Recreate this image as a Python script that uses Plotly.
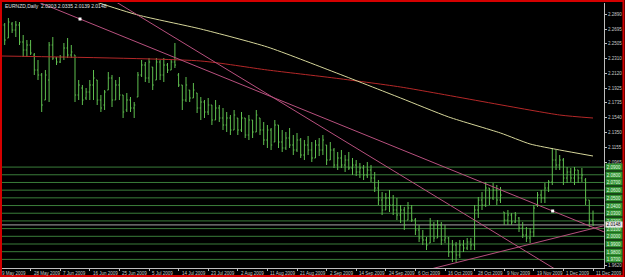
import plotly.graph_objects as go

# ---------------- data ----------------
bar_open = [2.2578, 2.2747, 2.2578, 2.2760, 2.2682, 2.2747, 2.2526, 2.2422, 2.2487, 2.2357,
            2.2162, 2.2097, 2.1772, 2.2032, 2.2487, 2.2318, 2.2266, 2.2331, 2.2448, 2.2357,
            2.2357, 2.1837, 2.1928, 2.1798, 2.1876, 2.1967, 2.2032, 2.1772, 2.1707, 2.1902,
            2.2058, 2.1772, 2.1967, 2.1837, 2.1642, 2.1772, 2.1668, 2.1811, 2.2097, 2.2227,
            2.2058, 2.2201, 2.2032, 2.2266, 2.2097, 2.2227, 2.2162, 2.2266, 2.2097, 2.1967,
            2.1772, 2.1902, 2.1798, 2.1863, 2.1668, 2.1746, 2.1616, 2.1707, 2.1512, 2.1668,
            2.1538, 2.1447, 2.1538, 2.1382, 2.1538, 2.1382, 2.1538, 2.1317, 2.1512, 2.1356,
            2.1538, 2.1382, 2.1252, 2.1382, 2.1226, 2.1447, 2.1226, 2.1148, 2.1278, 2.1187,
            2.1122, 2.1252, 2.1057, 2.1187, 2.1122, 2.1018, 2.1187, 2.1122, 2.1187, 2.0992,
            2.1122, 2.0927, 2.1018, 2.0927, 2.0992, 2.0888, 2.0927, 2.0836, 2.0888, 2.0797,
            2.0862, 2.0758, 2.0628, 2.0472, 2.0342, 2.0498, 2.0407, 2.0342, 2.0277, 2.0342,
            2.0212, 2.0368, 2.0212, 2.0082, 1.9978, 1.9952, 1.9913, 2.0147, 1.9978, 2.0147,
            1.9952, 1.9978, 1.9796, 1.9887, 1.9757, 1.9887, 1.9848, 1.9926, 1.9887, 2.0342,
            2.0472, 2.0407, 2.0628, 2.0498, 2.0602, 2.0472, 2.0316, 2.0212, 2.0277, 2.0186,
            2.0238, 2.0108, 2.0017, 1.9978, 2.0056, 2.0407, 2.0537, 2.0498, 2.0628, 2.0706,
            2.0992, 2.0927, 2.0992, 2.0758, 2.0836, 2.0758, 2.0862, 2.0758, 2.0732, 2.0472,
            2.0203]
bar_high = [2.2812, 2.2773, 2.2838, 2.2786, 2.2799, 2.2786, 2.2617, 2.2552, 2.2552, 2.2383,
            2.2292, 2.2123, 2.2162, 2.2526, 2.2591, 2.2331, 2.2357, 2.2513, 2.2578, 2.2487,
            2.2357, 2.2032, 2.1967, 2.1928, 2.2032, 2.2162, 2.2032, 2.1837, 2.1902, 2.2136,
            2.2097, 2.2032, 2.2071, 2.1837, 2.1863, 2.1811, 2.1746, 2.2136, 2.2292, 2.2266,
            2.2318, 2.2201, 2.2318, 2.2292, 2.2318, 2.2253, 2.2292, 2.2513, 2.2123, 2.1967,
            2.2071, 2.1902, 2.1993, 2.1863, 2.1811, 2.1772, 2.1798, 2.1707, 2.1772, 2.1707,
            2.1668, 2.1616, 2.1577, 2.1642, 2.1538, 2.1616, 2.1538, 2.1577, 2.1512, 2.1642,
            2.1538, 2.1486, 2.1447, 2.1408, 2.1512, 2.1447, 2.1382, 2.1356, 2.1408, 2.1317,
            2.1343, 2.1278, 2.1252, 2.1304, 2.1226, 2.1252, 2.1278, 2.1317, 2.1187, 2.1226,
            2.1148, 2.1096, 2.1122, 2.1057, 2.1096, 2.1018, 2.0992, 2.0953, 2.0927, 2.0966,
            2.0927, 2.0836, 2.0732, 2.0576, 2.0563, 2.0602, 2.0537, 2.0498, 2.0407, 2.0381,
            2.0446, 2.0407, 2.0238, 2.0147, 2.0082, 1.9991, 2.0238, 2.0186, 2.0212, 2.0186,
            2.0147, 1.9991, 1.9952, 1.9926, 1.9952, 1.9952, 1.9978, 1.9978, 2.0407, 2.0511,
            2.0576, 2.0706, 2.0628, 2.0693, 2.0667, 2.0641, 2.0316, 2.0342, 2.0303, 2.0316,
            2.0251, 2.0186, 2.0121, 2.0108, 2.0407, 2.0576, 2.0602, 2.0693, 2.0732, 2.1148,
            2.1122, 2.1057, 2.1018, 2.0901, 2.0888, 2.0901, 2.0862, 2.0888, 2.0758, 2.0472,
            2.0335]
bar_low = [2.2487, 2.2487, 2.2578, 2.2643, 2.2591, 2.2487, 2.2331, 2.2331, 2.2357, 2.2097,
           2.2032, 2.1616, 2.1772, 2.1746, 2.2292, 2.2227, 2.2253, 2.2292, 2.2318, 2.2318,
           2.1746, 2.1772, 2.1707, 2.1772, 2.1772, 2.1772, 2.1707, 2.1616, 2.1642, 2.1902,
           2.1681, 2.1772, 2.1772, 2.1538, 2.1616, 2.1616, 2.1538, 2.1811, 2.2071, 2.2006,
           2.1993, 2.1902, 2.2032, 2.2032, 2.2006, 2.2123, 2.2162, 2.2188, 2.1941, 2.1642,
           2.1746, 2.1746, 2.1798, 2.1603, 2.1512, 2.1538, 2.1577, 2.1447, 2.1512, 2.1486,
           2.1382, 2.1356, 2.1317, 2.1382, 2.1317, 2.1356, 2.1278, 2.1252, 2.1278, 2.1356,
           2.1317, 2.1187, 2.1148, 2.1122, 2.1226, 2.1148, 2.1096, 2.1122, 2.1148, 2.1057,
           2.1096, 2.1018, 2.0992, 2.1057, 2.0966, 2.1018, 2.1044, 2.1057, 2.0927, 2.0992,
           2.0888, 2.0862, 2.0888, 2.0836, 2.0862, 2.0797, 2.0784, 2.0758, 2.0732, 2.0758,
           2.0706, 2.0576, 2.0407, 2.0277, 2.0342, 2.0316, 2.0277, 2.0212, 2.0173, 2.0082,
           2.0212, 2.0186, 2.0017, 1.9926, 1.9887, 1.9822, 1.9913, 1.9926, 1.9978, 1.9887,
           1.9913, 1.9731, 1.9666, 1.9666, 1.9718, 1.9796, 1.9822, 1.9822, 1.9822, 2.0238,
           2.0342, 2.0381, 2.0407, 2.0472, 2.0407, 2.0433, 2.0147, 2.0147, 2.0147, 2.0173,
           2.0056, 1.9978, 1.9926, 1.9913, 1.9991, 2.0381, 2.0433, 2.0433, 2.0576, 2.0667,
           2.0862, 2.0862, 2.0667, 2.0693, 2.0706, 2.0667, 2.0693, 2.0706, 2.0407, 2.0121,
           2.0139]
bar_close = [2.2747, 2.2552, 2.2786, 2.2682, 2.2747, 2.2526, 2.2422, 2.2487, 2.2383, 2.2162,
             2.2097, 2.1707, 2.2097, 2.2487, 2.2318, 2.2266, 2.2331, 2.2448, 2.2357, 2.2396,
             2.1837, 2.1967, 2.1772, 2.1876, 2.1967, 2.2058, 2.1772, 2.1668, 2.1876, 2.2058,
             2.1772, 2.1967, 2.1837, 2.1616, 2.1772, 2.1668, 2.1707, 2.2097, 2.2227, 2.2058,
             2.2266, 2.1967, 2.2266, 2.2097, 2.2227, 2.2162, 2.2266, 2.2227, 2.1967, 2.1772,
             2.1967, 2.1798, 2.1902, 2.1668, 2.1746, 2.1616, 2.1707, 2.1512, 2.1668, 2.1538,
             2.1447, 2.1538, 2.1382, 2.1577, 2.1382, 2.1538, 2.1317, 2.1512, 2.1356, 2.1577,
             2.1382, 2.1252, 2.1382, 2.1187, 2.1447, 2.1226, 2.1148, 2.1278, 2.1187, 2.1122,
             2.1252, 2.1057, 2.1187, 2.1122, 2.1018, 2.1187, 2.1122, 2.1252, 2.0992, 2.1122,
             2.0927, 2.1018, 2.0927, 2.0992, 2.0888, 2.0927, 2.0836, 2.0888, 2.0797, 2.0862,
             2.0758, 2.0628, 2.0472, 2.0342, 2.0498, 2.0407, 2.0342, 2.0277, 2.0342, 2.0147,
             2.0368, 2.0212, 2.0082, 1.9978, 1.9952, 1.9887, 2.0147, 1.9978, 2.0147, 1.9952,
             1.9978, 1.9796, 1.9887, 1.9757, 1.9887, 1.9848, 1.9926, 1.9887, 2.0342, 2.0472,
             2.0407, 2.0628, 2.0498, 2.0602, 2.0472, 2.0537, 2.0212, 2.0277, 2.0186, 2.0277,
             2.0108, 2.0017, 1.9978, 2.0056, 2.0368, 2.0537, 2.0498, 2.0628, 2.0706, 2.0992,
             2.0927, 2.0992, 2.0758, 2.0836, 2.0758, 2.0862, 2.0758, 2.0797, 2.0472, 2.0212,
             2.0148]
bar_index = list(range(len(bar_close)))

date_tick_bars = [0, 8, 16, 24, 32, 40, 48, 56, 64, 72, 80, 88, 96, 104, 112, 120, 128, 136, 144, 152, 160]
date_tick_labels = ["9 May 2009", "28 May 2009", "7 Jun 2009", "16 Jun 2009", "25 Jun 2009",
                    "5 Jul 2009", "14 Jul 2009", "23 Jul 2009", "2 Aug 2009", "11 Aug 2009",
                    "21 Aug 2009", "2 Sep 2009", "14 Sep 2009", "24 Sep 2009", "6 Oct 2009",
                    "16 Oct 2009", "28 Oct 2009", "9 Nov 2009", "19 Nov 2009", "1 Dec 2009",
                    "11 Dec 2009"]

price_tick_vals = [2.2890, 2.2695, 2.2505, 2.2310, 2.2120, 2.1925, 2.1735, 2.1540, 2.1350,
                   2.1155, 2.0965, 1.9620]

level_prices = [2.09, 2.08, 2.07, 2.06, 2.05, 2.04, 2.03, 2.02, 2.01, 2.00, 1.99, 1.98, 1.97]

ma_yellow_bars = [24, 37, 54, 72, 90, 108, 121, 135, 143, 151, 160]
ma_yellow_vals = [2.3072, 2.2877, 2.2695, 2.2461, 2.2136, 2.1798, 2.1551, 2.1343, 2.1200, 2.1122, 2.1044]
ma_red_bars = [0, 54, 72, 90, 108, 151, 160]
ma_red_vals = [2.2344, 2.2279, 2.2162, 2.2058, 2.1941, 2.1577, 2.1538]

trend_t_bars = [10, 21.35, 149.1, 163]
trend_t_prices = [2.3047, 2.2825, 2.0329, 2.0057]
trend_s_bars = [30, 150]
trend_s_prices = [2.3079, 1.9566]
trend_r_bars = [115, 163]
trend_r_prices = [1.9561, 2.0138]
anchor_bars = [21.35, 149.1]
anchor_prices = [2.2825, 2.0329]

last_price = 2.0148
header_text = "EURNZD,Daily  2.0203 2.0335 2.0139 2.0148"

# ---------------- figure ----------------
W, H = 625, 277
ML, MR, MT, MB = 2, 21, 3, 9
PW, PH = W - ML - MR, H - MT - MB
FONT = "Liberation Sans"
XMIN, XMAX = (ML - 1) / 3.7, (W - MR - 1) / 3.7

def px_x(px):
    return (px - ML) / PW

def px_y(py):
    return (H - MB - py) / PH

fig = go.Figure()

fig.add_trace(go.Ohlc(
    x=bar_index, open=bar_open, high=bar_high, low=bar_low, close=bar_close,
    increasing=dict(line=dict(color="#5fbf4f", width=1)),
    decreasing=dict(line=dict(color="#5fbf4f", width=1)),
    tickwidth=0.3, hoverinfo="skip", showlegend=False))

fig.add_trace(go.Scatter(x=ma_red_bars, y=ma_red_vals, mode="lines",
                         line=dict(color="#b42828", width=1, shape="spline", smoothing=0.6),
                         hoverinfo="skip", showlegend=False))
fig.add_trace(go.Scatter(x=ma_yellow_bars, y=ma_yellow_vals, mode="lines",
                         line=dict(color="#d6d69a", width=1, shape="spline", smoothing=0.6),
                         hoverinfo="skip", showlegend=False))

for bx, by in [(trend_t_bars, trend_t_prices), (trend_s_bars, trend_s_prices),
               (trend_r_bars, trend_r_prices)]:
    fig.add_trace(go.Scatter(x=bx, y=by, mode="lines",
                             line=dict(color="#b8507e", width=1),
                             hoverinfo="skip", showlegend=False))

fig.add_trace(go.Scatter(x=anchor_bars, y=anchor_prices, mode="markers",
                         marker=dict(color="#ffffff", size=3, symbol="square"),
                         hoverinfo="skip", showlegend=False))

shapes = []
for lv in level_prices:
    shapes.append(dict(type="line", xref="paper", yref="y", x0=0, x1=1, y0=lv, y1=lv,
                       line=dict(color="#3a7d3a", width=1), layer="below"))
shapes.append(dict(type="line", xref="paper", yref="y", x0=0, x1=1, y0=last_price, y1=last_price,
                   line=dict(color="#a8a8a8", width=1), layer="below"))
# red window frame
shapes.append(dict(type="rect", xref="paper", yref="paper",
                   x0=px_x(1), x1=px_x(623.5), y0=px_y(276), y1=px_y(1),
                   line=dict(color="#d40000", width=2), fillcolor="rgba(0,0,0,0)"))

annotations = []
for lv in level_prices:
    annotations.append(dict(xref="paper", yref="y", x=1, y=lv, xanchor="left", yanchor="middle",
                            xshift=1, text=f"{lv:.4f}", showarrow=False,
                            font=dict(family=FONT, size=4.5, color="#e6ffe6"),
                            bgcolor="#2f8f2f", borderpad=0, width=16, height=6))
annotations.append(dict(xref="paper", yref="y", x=1, y=last_price, xanchor="left", yanchor="middle",
                        xshift=1, text=f"{last_price:.4f}", showarrow=False,
                        font=dict(family=FONT, size=4.5, color="#000000"),
                        bgcolor="#e8e8e8", borderpad=0, width=16, height=5))
for b, lab in zip(date_tick_bars, date_tick_labels):
    if b < XMIN:
        annotations.append(dict(xref="paper", yref="paper", x=0, y=0, xanchor="left",
                                yanchor="top", xshift=-2, yshift=-1, text=lab, showarrow=False,
                                font=dict(family=FONT, size=4.5, color="#c8c8c8")))
    else:
        annotations.append(dict(xref="x", yref="paper", x=b, y=0, xanchor="left", yanchor="top",
                                xshift=1, yshift=-1, text=lab, showarrow=False,
                                font=dict(family=FONT, size=4.5, color="#c8c8c8")))
annotations.append(dict(xref="paper", yref="paper", x=px_x(3), y=px_y(6), xanchor="left",
                        yanchor="middle", text=header_text, showarrow=False,
                        font=dict(family=FONT, size=5, color="#e0e0e0")))

fig.update_layout(
    width=W, height=H,
    margin=dict(l=ML, r=MR, t=MT, b=MB, pad=0),
    paper_bgcolor="#000000", plot_bgcolor="#000000",
    showlegend=False,
    shapes=shapes, annotations=annotations,
    xaxis=dict(range=[XMIN, XMAX], showgrid=False, zeroline=False,
               showline=True, linecolor="#bdbdbd", linewidth=1,
               tickvals=date_tick_bars, ticks="outside", ticklen=2, tickcolor="#bdbdbd",
               showticklabels=False, rangeslider=dict(visible=False), fixedrange=True),
    yaxis=dict(range=[1.9588, 2.3033], side="right", showgrid=False, zeroline=False,
               showline=True, linecolor="#bdbdbd", linewidth=1,
               tickvals=price_tick_vals, ticktext=[f"{v:.4f}" for v in price_tick_vals],
               ticks="outside", ticklen=2, tickcolor="#bdbdbd",
               tickfont=dict(family=FONT, size=4.5, color="#c8c8c8"), fixedrange=True),
)

fig.write_html("out.html")
